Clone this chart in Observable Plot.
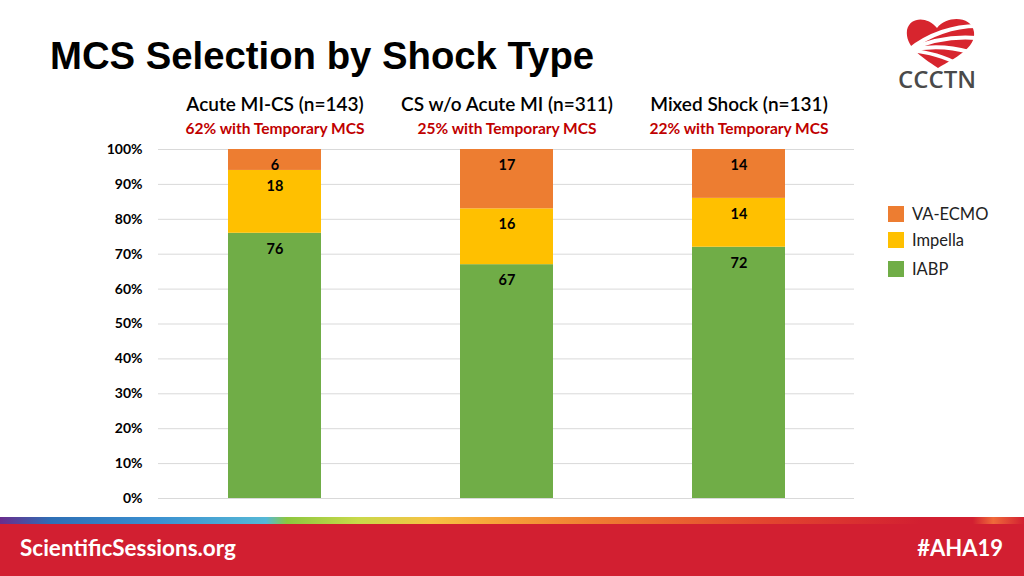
<!DOCTYPE html>
<html>
<head>
<meta charset="utf-8">
<script src="https://cdn.jsdelivr.net/npm/d3@7"></script>
<script src="https://cdn.jsdelivr.net/npm/@observablehq/plot@0.6"></script>
<style>
  html, body { margin: 0; padding: 0; background: #fff; }
  body { width: 1024px; height: 576px; position: relative; overflow: hidden; font-family: Lato, "Open Sans", sans-serif; }
  #title { position: absolute; left: 50px; top: 34px; font-family: "Liberation Sans", Arial, sans-serif; font-weight: bold; font-size: 38.3px; color: #000; white-space: nowrap; }
  #chart { position: absolute; left: 0; top: 0; }
  #legend { position: absolute; left: 888px; top: 206px; font-size: 16.5px; color: #222; }
  .li { position: absolute; left: 0; white-space: nowrap; }
  .sw { position: absolute; left: 0; width: 16px; height: 16px; }
  .lt { position: absolute; left: 24px; top: -2px; }
  #strip { position: absolute; left: 0; top: 517px; width: 1024px; height: 8px;
    background: linear-gradient(90deg, #6a2c8c 0%, #2e6fb5 5%, #3a8fd0 15%, #55b8d6 26%, #8cc63f 28%, #c8d94a 35%, #f6c244 42%, #f7a53a 48%, #ef7d32 58%, #e2452f 75%, #d21f31 90%, #d21f31 95%, #ef6a3a 97%, #d21f31 100%); }
  #footer { position: absolute; left: 0; top: 524px; width: 1024px; height: 52px; background: #d21f31; }
  #fl { position: absolute; left: 20px; top: 534px; color: #fff; font-weight: bold; font-size: 22.5px; }
  #fr { position: absolute; right: 21px; top: 534px; color: #fff; font-weight: bold; font-size: 22px; }
  #logo { position: absolute; left: 880px; top: 12px; }
</style>
</head>
<body>
<div id="chart"></div>
<div id="title">MCS Selection by Shock Type</div>
<div id="legend"></div>
<div id="strip"></div>
<div id="footer"></div>
<div id="fl">ScientificSessions.org</div>
<div id="fr">#AHA19</div>
<svg id="logo" width="130" height="84" viewBox="0 0 130 84">
  <path d="M58 56 C 40 44, 25 34, 27 18 C 30 5, 47 4, 57 16 C 67 3, 92 4, 94 20 C 96 36, 75 46, 58 56 Z" fill="#d7252e"/>
  <path d="M29 38 C 49 22, 74 14, 97 14" stroke="#fff" stroke-width="4" fill="none"/>
  <path d="M29 38 C 51 28, 74 24, 97 26" stroke="#fff" stroke-width="4" fill="none"/>
  <path d="M29 38 C 49 34, 69 34, 89 40" stroke="#fff" stroke-width="4" fill="none"/>
  <path d="M29 38 C 47 40, 64 44, 77 52" stroke="#fff" stroke-width="3.5" fill="none"/>
  <text x="57" y="76" text-anchor="middle" font-family="'Open Sans', sans-serif" font-size="24" font-weight="600" fill="#4a4a4a">CCCTN</text>
</svg>
<script>
// ---- data ----
const categories = ["Acute MI-CS", "CS w/o Acute MI", "Mixed Shock"];
const headers = ["Acute MI-CS (n=143)", "CS w/o Acute MI (n=311)", "Mixed Shock (n=131)"];
const subheaders = ["62% with Temporary MCS", "25% with Temporary MCS", "22% with Temporary MCS"];
const seriesNames = ["IABP", "Impella", "VA-ECMO"];
const iabp = [76, 67, 72];
const impella = [18, 16, 14];
const vaecmo = [6, 17, 14];
const yTicks = [0, 10, 20, 30, 40, 50, 60, 70, 80, 90, 100];
const seriesColors = ["#70ad47", "#ffc000", "#ed7d31"];

const seriesValues = [iabp, impella, vaecmo];
const data = [];
seriesNames.forEach((s, si) => categories.forEach((c, ci) => data.push({cat: c, type: s, value: seriesValues[si][ci]})));

const plot = Plot.plot({
  width: 1024,
  height: 576,
  marginLeft: 158,
  marginRight: 170,
  marginTop: 149,
  marginBottom: 78,
  style: {fontFamily: "Lato, 'Open Sans', sans-serif", background: "transparent", overflow: "visible"},
  x: {domain: categories, paddingInner: 0.6, paddingOuter: 0.3, axis: null},
  y: {domain: [0, 100], axis: null},
  color: {domain: seriesNames, range: seriesColors},
  marks: [
    Plot.ruleY(yTicks, {y: d => d, stroke: "#d9d9d9", strokeWidth: 1}),
    Plot.text(yTicks, {y: d => d, text: d => d + "%", frameAnchor: "left", dx: -16, textAnchor: "end", fontSize: 14, fontWeight: "bold", fill: "#000"}),
    Plot.barY(data, {x: "cat", y: "value", fill: "type", order: seriesNames}),
    Plot.text(data, Plot.stackY2({x: "cat", y: "value", z: "type", order: seriesNames, text: d => String(d.value), dy: 16, fontSize: 14.5, fontWeight: "bold", fill: "#000"})),
    Plot.text(categories, {x: d => d, text: (d, i) => headers[i], frameAnchor: "top", dy: -52, fontSize: 19, fontWeight: "600", fill: "#000"}),
    Plot.text(categories, {x: d => d, text: (d, i) => subheaders[i], frameAnchor: "top", dy: -27, fontSize: 15.5, fontWeight: "bold", fill: "#c00000"})
  ]
});
document.getElementById("chart").appendChild(plot);

// legend (top to bottom: VA-ECMO, Impella, IABP)
const legend = document.getElementById("legend");
const legendOrder = [2, 1, 0];
const legendTops = [0, 26, 55];
legendOrder.forEach((si, k) => {
  const item = document.createElement("div");
  item.className = "li";
  item.style.top = legendTops[k] + "px";
  item.innerHTML = `<div class="sw" style="background:${seriesColors[si]}"></div><div class="lt">${seriesNames[si]}</div>`;
  legend.appendChild(item);
});
</script>
</body>
</html>
